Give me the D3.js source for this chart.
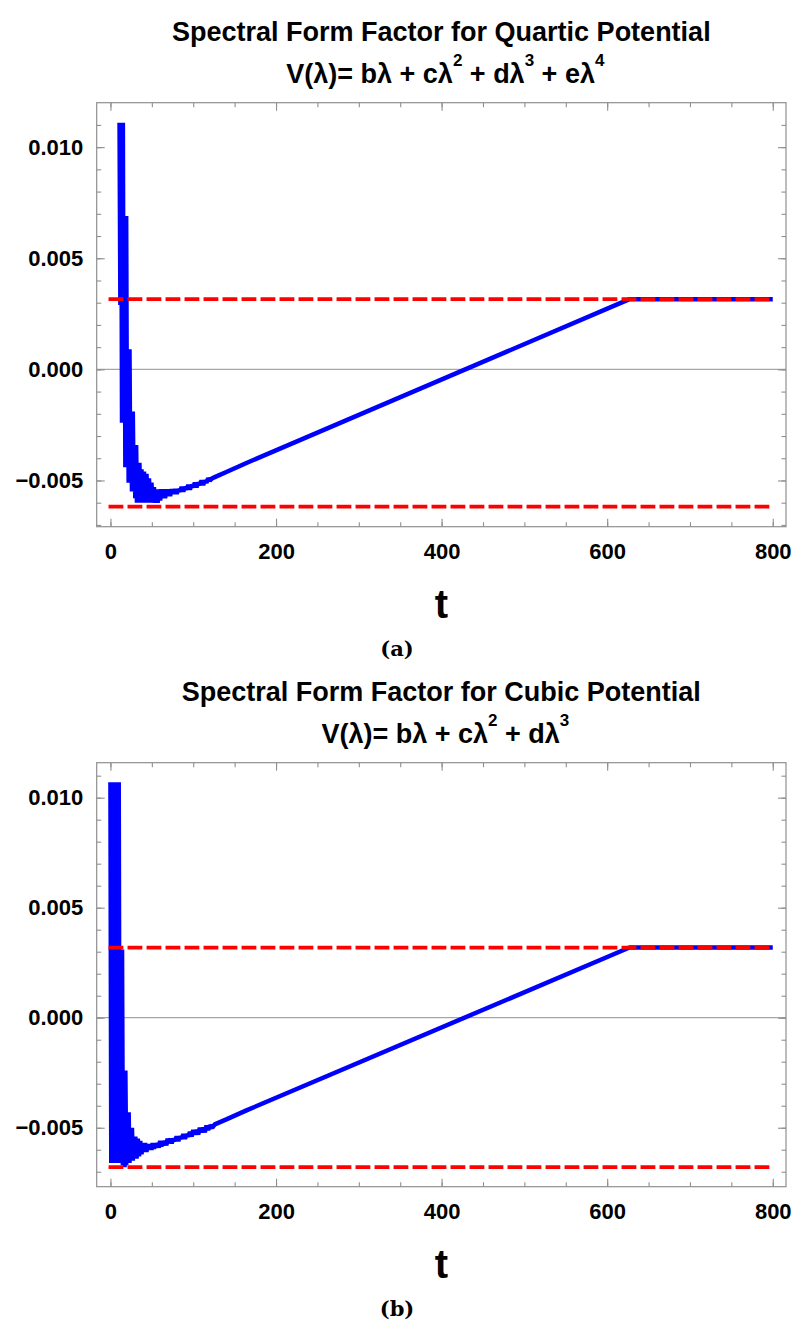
<!DOCTYPE html>
<html>
<head>
<meta charset="utf-8">
<script src="https://cdnjs.cloudflare.com/ajax/libs/d3/7.8.5/d3.min.js"></script>
<style>
  body { margin: 0; background: #fff; }
  svg { display: block; }
</style>
</head>
<body>
<svg id="chart" width="794" height="1327"></svg>
<script>
// ---- data ----
// (a) quartic potential: SFF vs t (oscillating start, ramp, plateau)
var tQuartic = [11, 12, 13, 14, 15, 16, 17, 18, 19, 20, 21, 22, 23, 24, 25, 26, 27, 28, 29, 30,
  31, 32, 33, 34, 35, 36, 37.5, 39, 40.5, 42, 43.5, 45, 46.5, 48, 49.5, 51, 52.5, 54, 55.5, 57,
  58.5, 60, 61.5, 63, 64.5, 66, 67.5, 69, 70.5, 72, 74, 76, 78, 80, 82, 84, 86, 88, 90, 92,
  94, 96, 98, 100, 102, 104, 106, 108, 110, 112, 114, 116, 118, 120, 123, 126, 140, 165, 627, 800];
var sffQuartic = [0.0111, 0.0029, 0.0111, -0.0024, 0.0111, -0.0024, 0.0069, -0.0044, 0.0069, -0.0044,
  0.0009, -0.0051, 0.0009, -0.0051, -0.0019, -0.0055, -0.0019, -0.0055, -0.0034, -0.0058,
  -0.0034, -0.0060, -0.0042, -0.0060, -0.0042, -0.0060, -0.0045, -0.0060, -0.0046, -0.0060,
  -0.0047, -0.0060, -0.0049, -0.0060, -0.0051, -0.0060, -0.0053, -0.0060, -0.0054, -0.0060,
  -0.0054, -0.0059, -0.0054, -0.0058, -0.0054, -0.0058, -0.0054, -0.0057, -0.0054, -0.0057,
  -0.0054, -0.0056, -0.0054, -0.0056, -0.0054, -0.0055, -0.0053, -0.0055, -0.0053, -0.0054,
  -0.0052, -0.0054, -0.0052, -0.0053, -0.0051, -0.0053, -0.0051, -0.0052, -0.0050, -0.0052,
  -0.0050, -0.0051, -0.0049, -0.0050, -0.0049, -0.00485, -0.00462, -0.00420, 0.00316, 0.00316];
var redQuartic = [0.00316, -0.00618];

// (b) cubic potential
var tCubic = [0, 1, 2, 3, 4, 5, 6, 7, 8, 9, 10, 11, 12, 13, 14, 15, 16, 17, 18, 19,
  20, 21, 22, 23, 24, 25, 26, 27, 28, 29, 30, 31.5, 33, 34.5, 36, 37.5, 39, 40.5, 42, 43.5,
  45, 46.5, 48, 49.5, 51, 52.5, 54, 55.5, 57, 58.5, 60, 61.5, 63, 64.5, 66, 67.5, 69, 70.5,
  72, 74, 76, 78, 80, 82, 84, 86, 88, 90, 92, 94, 96, 98, 100, 102, 104, 106, 108, 110,
  112, 114, 116, 118, 120, 123, 126, 140, 165, 627, 800];
var sffCubic = [0.0107, -0.0066, 0.0107, -0.0066, 0.0107, -0.0066, 0.0107, -0.0066, 0.0107, -0.0066,
  0.0107, -0.0066, 0.0031, -0.0066, 0.0031, -0.0067, -0.0024, -0.0068, -0.0024, -0.0067,
  -0.0043, -0.0066, -0.0043, -0.0066, -0.0050, -0.0065, -0.0050, -0.0065, -0.0054, -0.0064,
  -0.0054, -0.0064, -0.0055, -0.0063, -0.0056, -0.0062, -0.0057, -0.0061, -0.0057, -0.0061,
  -0.00575, -0.0060, -0.00575, -0.0060, -0.0057, -0.00595, -0.0057, -0.0059, -0.0057, -0.0059,
  -0.0056, -0.00585, -0.0056, -0.0058, -0.0056, -0.0058, -0.0055, -0.0057, -0.0055, -0.0057,
  -0.0055, -0.0056, -0.0054, -0.0056, -0.0054, -0.0055, -0.0053, -0.0055, -0.0053, -0.0054,
  -0.0052, -0.0054, -0.0051, -0.0053, -0.0051, -0.0053, -0.0050, -0.0052, -0.0050, -0.0052,
  -0.0049, -0.0051, -0.0049, -0.0050, -0.00485, -0.00462, -0.00420, 0.00319, 0.00319];
var redCubic = [0.00319, -0.00679];

// ticks
var xMajor = [0, 200, 400, 600, 800];
var xMinor = [0, 50, 100, 150, 200, 250, 300, 350, 400, 450, 500, 550, 600, 650, 700, 750, 800];
var yMajor = [-0.005, 0, 0.005, 0.010];
var yMinor = [-0.007, -0.006, -0.005, -0.004, -0.003, -0.002, -0.001, 0, 0.001, 0.002,
  0.003, 0.004, 0.005, 0.006, 0.007, 0.008, 0.009, 0.010, 0.011];
var redSpan = [0, 800];

var svg = d3.select("#chart");
var FONT = "'Liberation Sans', Arial, sans-serif";
var GRAY = "#8f8f8f";

function styleAxis(sel) {
  sel.select(".domain").remove();
  sel.selectAll(".tick line").attr("stroke", GRAY).attr("stroke-width", 1.1);
  sel.selectAll("text")
    .attr("font-family", FONT)
    .attr("font-size", 22)
    .attr("font-weight", "bold")
    .attr("fill", "#000");
}

function drawPanel(opt) {
  var left = 96.7, right = 786;
  var top = opt.top, bottom = opt.top + 424;
  var x = d3.scaleLinear().domain([-16.6, 816]).range([left, right]);
  var y = d3.scaleLinear().domain(opt.yDomain).range([bottom, top]);
  var g = svg.append("g");

  // title, two lines
  var cx = (left + right) / 2;
  g.append("text")
    .attr("x", cx).attr("y", top - 62)
    .attr("text-anchor", "middle")
    .attr("font-family", FONT).attr("font-weight", "bold").attr("font-size", 27)
    .text(opt.title);
  var t2 = g.append("text")
    .attr("x", cx + 4).attr("y", top - 20)
    .attr("text-anchor", "middle")
    .attr("font-family", FONT).attr("font-weight", "bold").attr("font-size", 27);
  var shift = 0;
  opt.formula.forEach(function(part) {
    if (part.sup) {
      t2.append("tspan").attr("dy", -17).attr("font-size", 17).text(part.sup);
      shift = 17;
    } else {
      t2.append("tspan").attr("dy", shift).text(part.text);
      shift = 0;
    }
  });

  // zero line
  g.append("line")
    .attr("x1", left).attr("x2", right)
    .attr("y1", y(0)).attr("y2", y(0))
    .attr("stroke", "#a6a6a6").attr("stroke-width", 1.3);

  // axes: bottom and left with labels, top and right only ticks
  g.append("g").attr("transform", "translate(0," + bottom + ")")
    .call(d3.axisBottom(x).tickValues(xMinor).tickSizeInner(-4.5).tickSizeOuter(0).tickFormat(""))
    .call(styleAxis);
  g.append("g").attr("transform", "translate(0," + bottom + ")")
    .call(d3.axisBottom(x).tickValues(xMajor).tickSizeInner(-8).tickSizeOuter(0)
      .tickPadding(16.5).tickFormat(d3.format("d")))
    .call(styleAxis);
  g.append("g").attr("transform", "translate(0," + top + ")")
    .call(d3.axisTop(x).tickValues(xMinor).tickSizeInner(-4.5).tickSizeOuter(0).tickFormat(""))
    .call(styleAxis);
  g.append("g").attr("transform", "translate(0," + top + ")")
    .call(d3.axisTop(x).tickValues(xMajor).tickSizeInner(-8).tickSizeOuter(0).tickFormat(""))
    .call(styleAxis);
  g.append("g").attr("transform", "translate(" + left + ",0)")
    .call(d3.axisLeft(y).tickValues(yMinor).tickSizeInner(-4.5).tickSizeOuter(0).tickFormat(""))
    .call(styleAxis);
  g.append("g").attr("transform", "translate(" + left + ",0)")
    .call(d3.axisLeft(y).tickValues(yMajor).tickSizeInner(-8).tickSizeOuter(0)
      .tickPadding(13.4).tickFormat(d3.format(".3f")))
    .call(styleAxis);
  g.append("g").attr("transform", "translate(" + right + ",0)")
    .call(d3.axisRight(y).tickValues(yMinor).tickSizeInner(-4.5).tickSizeOuter(0).tickFormat(""))
    .call(styleAxis);
  g.append("g").attr("transform", "translate(" + right + ",0)")
    .call(d3.axisRight(y).tickValues(yMajor).tickSizeInner(-8).tickSizeOuter(0).tickFormat(""))
    .call(styleAxis);

  // frame
  g.append("rect")
    .attr("x", left).attr("y", top)
    .attr("width", right - left).attr("height", bottom - top)
    .attr("fill", "none").attr("stroke", GRAY).attr("stroke-width", 1.2);

  // blue SFF curve
  var line = d3.line()
    .x(function(i) { return x(opt.t[i]); })
    .y(function(i) { return y(opt.v[i]); });
  g.append("path")
    .datum(d3.range(opt.t.length))
    .attr("d", line)
    .attr("fill", "none")
    .attr("stroke", "#0000ff")
    .attr("stroke-width", 4.5)
    .attr("stroke-linejoin", "bevel");

  // red dashed reference levels
  opt.red.forEach(function(level) {
    g.append("line")
      .attr("x1", x(redSpan[0])).attr("x2", x(redSpan[1]))
      .attr("y1", y(level)).attr("y2", y(level))
      .attr("stroke", "#ff0000")
      .attr("stroke-width", 3.8)
      .attr("stroke-linecap", "square")
      .attr("stroke-dasharray", "11,8");
  });

  // axis label and caption
  g.append("text")
    .attr("x", cx).attr("y", bottom + 91)
    .attr("text-anchor", "middle")
    .attr("font-family", FONT).attr("font-weight", "bold").attr("font-size", 40)
    .text("t");
  g.append("text")
    .attr("x", 397).attr("y", bottom + 129)
    .attr("text-anchor", "middle")
    .attr("font-family", "'DejaVu Serif', 'Liberation Serif', serif")
    .attr("font-weight", "bold").attr("font-size", 21)
    .text(opt.caption);
}

drawPanel({
  top: 102.7,
  yDomain: [-0.00708, 0.0120],
  title: "Spectral Form Factor for Quartic Potential",
  formula: [{text: "V(λ)= bλ + cλ"}, {sup: "2"}, {text: " + dλ"}, {sup: "3"}, {text: " + eλ"}, {sup: "4"}],
  t: tQuartic, v: sffQuartic, red: redQuartic,
  caption: "(a)"
});

drawPanel({
  top: 762.7,
  yDomain: [-0.00768, 0.01159],
  title: "Spectral Form Factor for Cubic Potential",
  formula: [{text: "V(λ)= bλ + cλ"}, {sup: "2"}, {text: " + dλ"}, {sup: "3"}],
  t: tCubic, v: sffCubic, red: redCubic,
  caption: "(b)"
});
</script>
</body>
</html>
